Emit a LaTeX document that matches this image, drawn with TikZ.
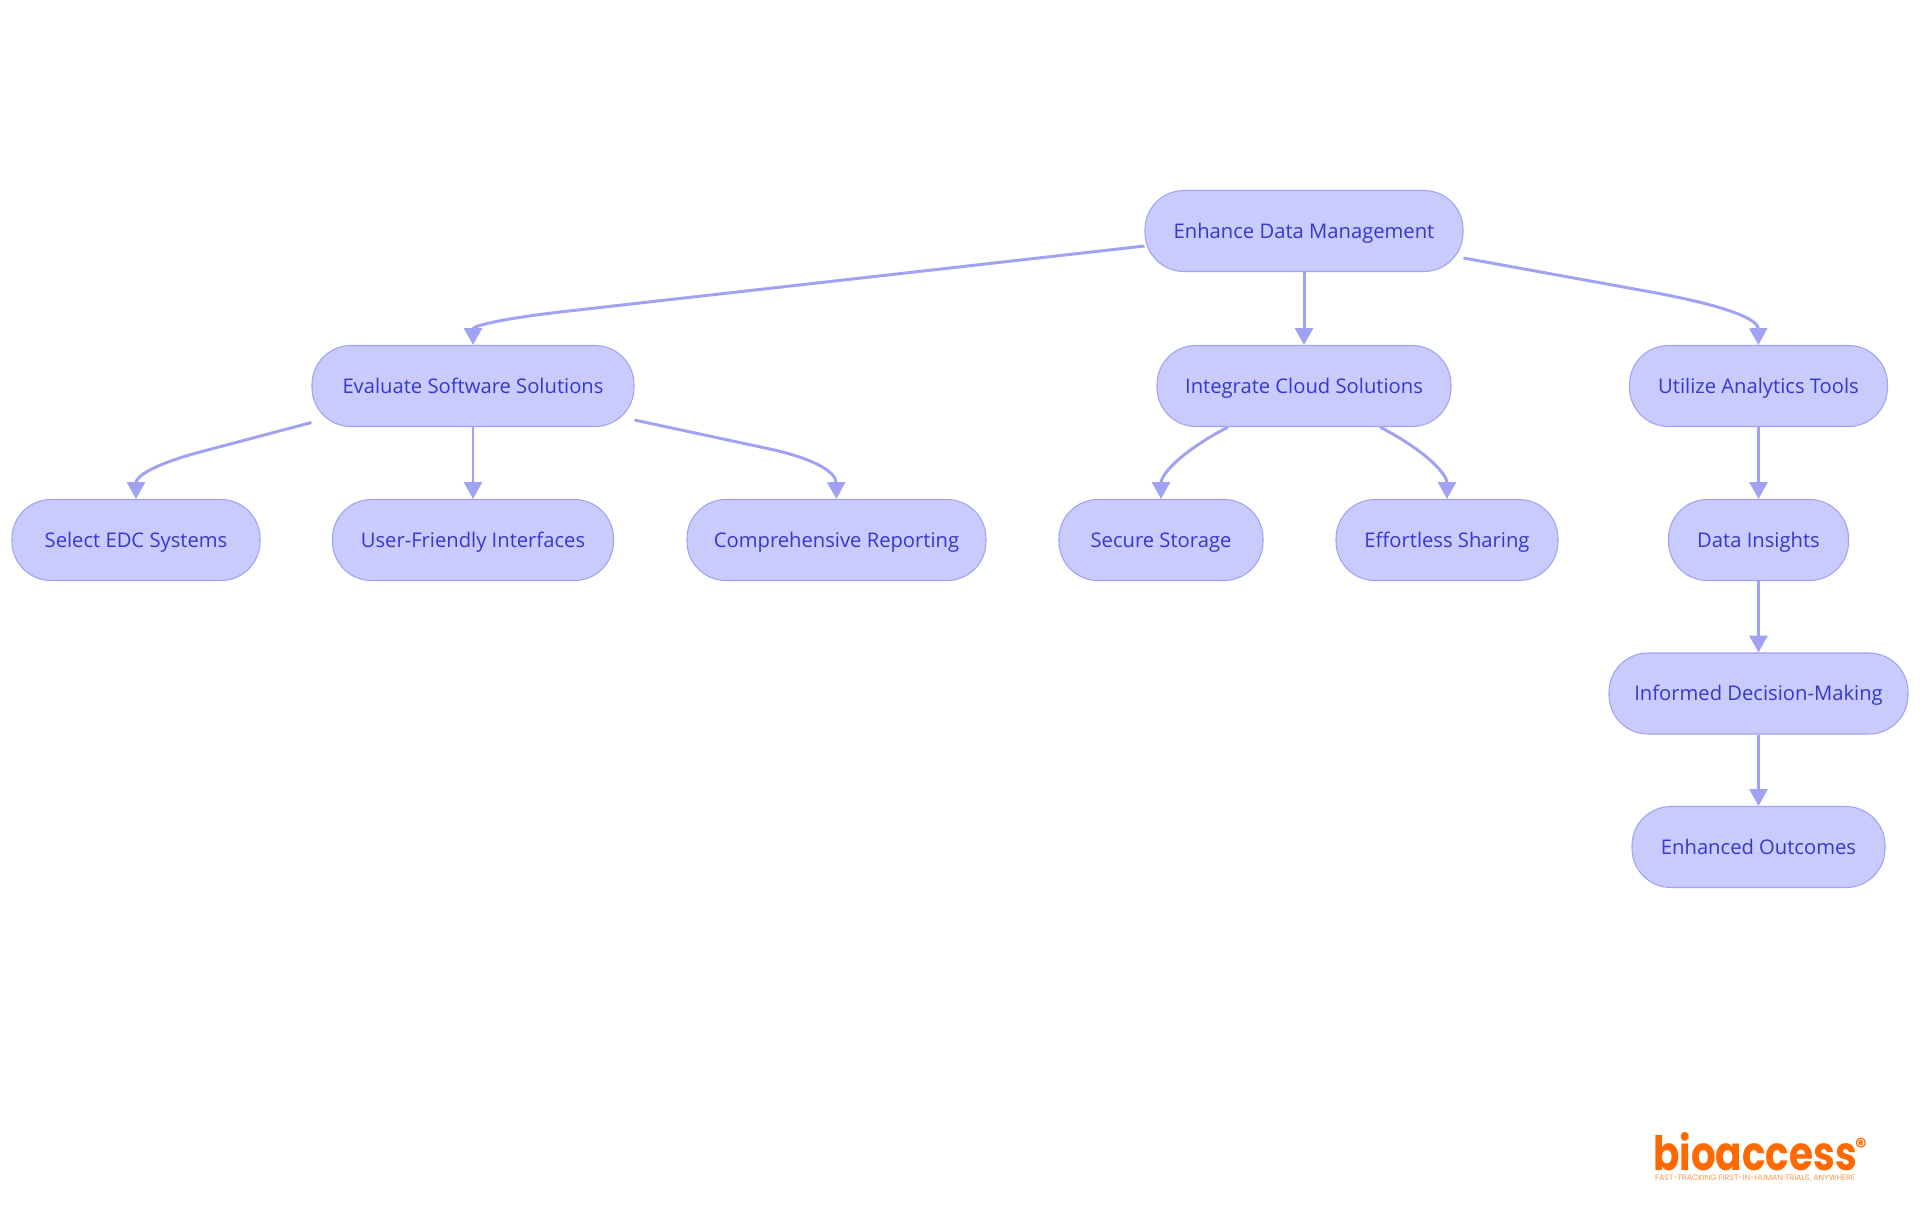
\documentclass[tikz,border=0pt]{standalone}
\usepackage{fontspec}
\setmainfont{Open Sans}
\newfontfamily\logofont{Poppins}
\usetikzlibrary{arrows.meta}
\definecolor{boxfill}{HTML}{C9CBFD}
\definecolor{boxline}{HTML}{A0A3F3}
\definecolor{boxtext}{HTML}{3538CD}
\definecolor{logoorange}{HTML}{FF6900}
\begin{document}
\begin{tikzpicture}[x=0.02cm,y=-0.02cm,
    box/.style={draw=boxline,fill=boxfill,text=boxtext,line width=0.6pt,rounded corners=0.78cm,minimum height=1.62cm,inner sep=0pt,text height=10pt,text depth=1.8pt,font=\fontsize{11.5}{13}\selectfont},
    link/.style={draw=boxline,line width=1.7pt,-{Triangle[length=9.6pt,width=10.2pt]}}]

                \useasboundingbox (0,0) rectangle (1920,1215);

                \node[box, minimum width=318*0.02cm] (nodeRoot) at (1304,231) {Enhance Data Management};

                \node[box, minimum width=322*0.02cm] (nodeEval) at (473,386) {Evaluate Software Solutions};
                \node[box, minimum width=294*0.02cm] (nodeCloud) at (1304,386) {Integrate Cloud Solutions};
                \node[box, minimum width=258*0.02cm] (nodeTools) at (1758.5,386) {Utilize Analytics Tools};

                \node[box, minimum width=248*0.02cm] (nodeEdc) at (136,540) {Select EDC Systems};
                \node[box, minimum width=281*0.02cm] (nodeUser) at (473,540) {User-Friendly Interfaces};
                \node[box, minimum width=299*0.02cm] (nodeReport) at (836.5,540) {Comprehensive Reporting};
                \node[box, minimum width=204*0.02cm] (nodeStorage) at (1161,540) {Secure Storage};
                \node[box, minimum width=222*0.02cm] (nodeSharing) at (1447,540) {Effortless Sharing};
                \node[box, minimum width=180*0.02cm] (nodeInsights) at (1758.5,540) {Data Insights};

                \node[box, minimum width=299*0.02cm] (nodeDecision) at (1758.5,693.5) {Informed Decision-Making};
                \node[box, minimum width=253*0.02cm] (nodeOutcomes) at (1758.5,847) {Enhanced Outcomes};

                \draw [link] ([yshift=-0.3cm]nodeRoot.west) -- (560,312) .. controls (500,319) and (473,326) .. (nodeEval.north);
                \draw [link] (nodeRoot) -- (nodeCloud);
                \draw [link] ([yshift=-0.54cm]nodeRoot.east) -- (1640,290) .. controls (1720,304) and (1758,318) .. (nodeTools.north);

                \draw [link] ([yshift=-0.73cm]nodeEval.west) -- (200,452) .. controls (155,464) and (136,476) .. (nodeEdc.north);
                \draw [link] (nodeEval) -- (nodeUser);
                \draw [link] ([yshift=-0.68cm]nodeEval.east) -- (770,449) .. controls (815,459) and (836,472) .. (nodeReport.north);

                \draw [link] ([xshift=-1.52cm]nodeCloud.south) .. controls (1180,452) and (1161,475) .. (nodeStorage.north);
                \draw [link] ([xshift=1.52cm]nodeCloud.south) .. controls (1428,452) and (1447,475) .. (nodeSharing.north);

                \draw [link] (nodeTools) -- (nodeInsights);
                \draw [link] (nodeInsights) -- (nodeDecision);
                \draw [link] (nodeDecision) -- (nodeOutcomes);

                \node[text=logoorange,inner sep=0pt,anchor=base,xscale=0.82,font=\logofont\bfseries\fontsize{27}{27}\selectfont] (logoName) at (1755,1170) {bioaccess};
                \node[text=logoorange,inner sep=0pt,font=\logofont\bfseries\fontsize{13}{13}\selectfont] (logoMark) at (1861,1146) {®};
                \node[text=logoorange!70,inner sep=0pt,font=\logofont\fontsize{4.5}{5}\selectfont] (logoLine) at (1755,1178) {FAST-TRACKING FIRST-IN-HUMAN TRIALS, ANYWHERE};

            \end{tikzpicture}
\end{document}
